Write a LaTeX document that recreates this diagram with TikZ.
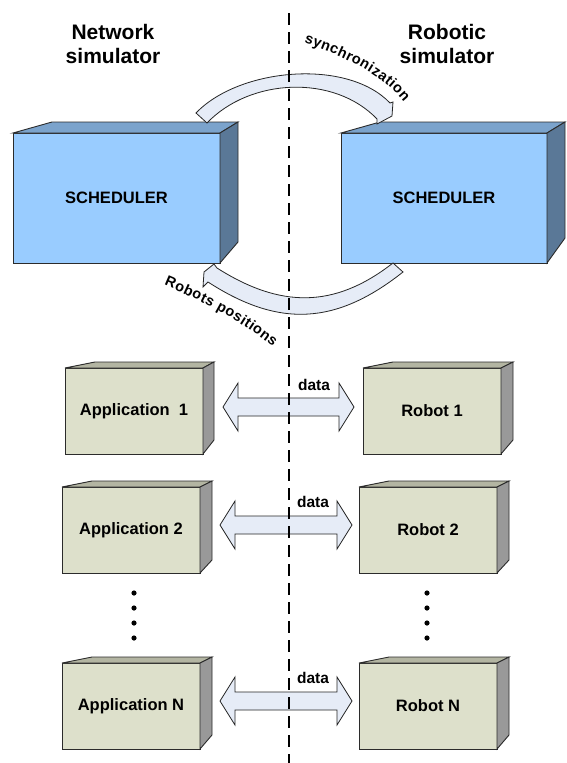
\documentclass[tikz,border=0pt]{standalone}
\usepackage{fontspec}
\setmainfont{Liberation Sans}
\usetikzlibrary{decorations.text}

\definecolor{schedfront}{HTML}{99CCFF}
\definecolor{schedtop}{HTML}{7BA3CC}
\definecolor{schedside}{HTML}{5A7897}
\definecolor{unitfront}{HTML}{DDE0CB}
\definecolor{unittop}{HTML}{B3B5A2}
\definecolor{unitside}{HTML}{999999}
\definecolor{flowfill}{HTML}{E6ECF7}
\definecolor{edgecol}{HTML}{2B2B2B}

\newcommand\titlefont{\fontsize{21}{24}\selectfont\bfseries}
\newcommand\boxfont{\fontsize{16.5}{19}\selectfont\bfseries}
\newcommand\datafont{\fontsize{15.5}{18}\selectfont\bfseries}
\newcommand\arcfont{\fontsize{14.5}{16}\selectfont\bfseries}

% top and side faces of a box whose front face is the node #1
% #2 left depth, #3 right depth, #4 top rise, #5 bottom rise, #6 top colour, #7 side colour
\newcommand\depthfaces[7]{%
  \filldraw[outline, fill=#6] (#1.north west) -- ++(#2,-#4)
    -- ([shift={(#3,-#4)}]#1.north east) -- (#1.north east) -- cycle;
  \filldraw[outline, fill=#7] (#1.north east) -- ([shift={(#3,-#4)}]#1.north east)
    -- ([shift={(#3,-#5)}]#1.south east) -- (#1.south east) -- cycle;
}

% wide double arrow between two tips #1 and #2
\newcommand\dataflow[2]{%
  \filldraw[flow] (#1) -- ++(15,-24) -- ++(0,15) -- ([shift={(-15,-9)}]#2)
    -- ++(0,-15) -- (#2) -- ++(-15,24) -- ++(0,-15)
    -- ([shift={(15,9)}]#1) -- ++(0,15) -- cycle;
}

\tikzset{
  outline/.style={draw=edgecol, line width=0.9pt, line join=miter},
  schedbox/.style={outline, fill=schedfront, inner sep=0pt, outer sep=0pt,
    minimum width=207pt, minimum height=130pt, font=\boxfont},
  unitbox/.style={outline, fill=unitfront, inner sep=0pt, outer sep=0pt,
    minimum width=138pt, minimum height=86pt, font=\boxfont},
  flow/.style={draw=black!85, line width=0.8pt, fill=flowfill, line join=miter},
  titletext/.style={font=\titlefont, anchor=base, inner sep=0pt},
  datatext/.style={font=\datafont, anchor=base, inner sep=0pt},
  divider/.style={line width=1.8pt, dash pattern=on 12pt off 7pt},
  arclabel/.style={decorate, decoration={text along path, text align={fit to path}}},
}

\begin{document}
\begin{tikzpicture}[x=1pt, y=-1pt]
\useasboundingbox (0,0) rectangle (566,763);
\fill[white] (0,0) rectangle (566,763);

% column titles
\node[titletext] (netA) at (113,39.5) {Network};
\node[titletext] (netB) at (113,63) {simulator};
\node[titletext] (robA) at (447,39.5) {Robotic};
\node[titletext] (robB) at (447,63) {simulator};

% schedulers
\node[schedbox] (schedL) at (116.5,198) {SCHEDULER};
\depthfaces{schedL}{39}{18}{11}{21}{schedtop}{schedside}
\node[schedbox, minimum width=206pt] (schedR) at (444,198) {SCHEDULER};
\depthfaces{schedR}{39}{18}{11}{25}{schedtop}{schedside}

% applications and robots
\node[unitbox] (app1) at (134,411) {Application\ \ 1};
\depthfaces{app1}{30}{11}{6}{14}{unittop}{unitside}
\node[unitbox] (rob1) at (432,411) {Robot 1};
\depthfaces{rob1}{30}{12}{6}{14}{unittop}{unitside}

\node[unitbox] (app2) at (131,530) {Application 2};
\depthfaces{app2}{30}{12}{6}{13}{unittop}{unitside}
\node[unitbox] (rob2) at (428,530) {Robot 2};
\depthfaces{rob2}{30}{12}{6}{13}{unittop}{unitside}

\node[unitbox] (appN) at (131,706) {Application N};
\depthfaces{appN}{30}{12}{6}{14}{unittop}{unitside}
\node[unitbox] (robN) at (428,706) {Robot N};
\depthfaces{robN}{30}{12}{6}{14}{unittop}{unitside}

% ellipsis dots between rows
\foreach \yy in {593,608,623,638} {
  \fill (134,\yy) circle (2.6pt);
  \fill (427,\yy) circle (2.6pt);
}

% synchronization arc (network -> robotic)
\filldraw[flow] (196,113) .. controls (239,68) and (347,58) .. (390,103)
  -- (393,102) -- (392,116) -- (377,124) -- (377,119)
  .. controls (334,74) and (250,78) .. (207,123) -- cycle;
\path[arclabel, decoration={text={|\arcfont|synchronization}}]
  (304,43) .. controls (338,54) and (380,72) .. (404,102);

% robots positions arc (robotic -> network)
\filldraw[flow] (403,272) .. controls (336,325) and (279,328) .. (208,282)
  -- (203,287) -- (204,272) -- (214,264) -- (217,268)
  .. controls (280,308) and (334,309) .. (393,263) -- cycle;
\path[arclabel, decoration={text={|\arcfont|Robots positions}}]
  (164,285) .. controls (200,300) and (240,320) .. (273,347);

% data exchange arrows
\coordinate (f1L) at (223,407);  \coordinate (f1R) at (354,407);
\coordinate (f2L) at (220,525);  \coordinate (f2R) at (352,525);
\coordinate (fNL) at (220,701);  \coordinate (fNR) at (352,701);
\dataflow{f1L}{f1R}
\dataflow{f2L}{f2R}
\dataflow{fNL}{fNR}
\node[datatext] (data1) at (314,390) {data};
\node[datatext] (data2) at (313,507) {data};
\node[datatext] (dataN) at (313,683) {data};

% boundary between the two simulators
\coordinate (divTop) at (289,13);
\coordinate (divBot) at (289,763);
\draw[divider] (divTop) -- (divBot);
\end{tikzpicture}
\end{document}
